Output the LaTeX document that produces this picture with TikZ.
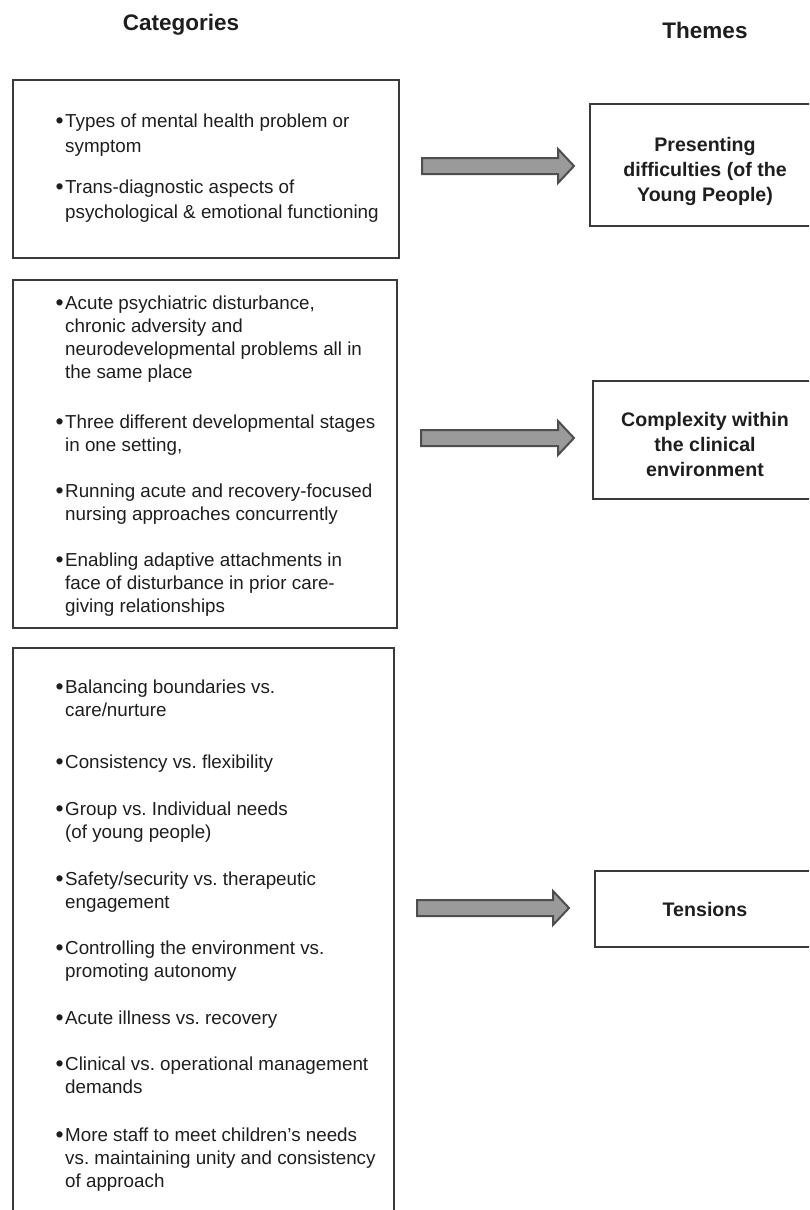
\documentclass[tikz,border=0pt]{standalone}
\usepackage{fontspec}
\setmainfont{Liberation Sans}
\definecolor{txt}{HTML}{1E1E1E}
\definecolor{boxline}{HTML}{3A3A3A}
\definecolor{arrfill}{HTML}{9A9A9A}
\definecolor{arrline}{HTML}{4E4E4E}
\newcommand{\bul}{\llap{\raisebox{-0.09em}{\fontsize{23}{23}\selectfont •}\kern1.6pt}}
\frenchspacing
\begin{document}
\begin{tikzpicture}[x=1pt,y=-1pt,
  catbox/.style={draw=boxline,line width=1.4pt},
  item/.style={anchor=base west,align=left,inner sep=0pt,text=txt,font=\frenchspacing\fontsize{18.8}{23}\selectfont},
  itemwide/.style={item,font=\frenchspacing\fontsize{18.8}{25}\selectfont},
  theme/.style={anchor=base,align=center,inner sep=0pt,text=txt,font=\bfseries\fontsize{19.6}{25}\selectfont},
  head/.style={anchor=base,inner sep=0pt,text=txt,font=\bfseries\fontsize{22.5}{27}\selectfont},
  fatarrow/.style={fill=arrfill,draw=arrline,line width=2pt,line join=miter}]
\path[use as bounding box,clip] (0,0) rectangle (809,1210);

% headers
\node[head] (hcat) at (181,30) {Categories};
\node[head] (hthm) at (705,38) {Themes};

% category boxes
\draw[catbox] (13,80) rectangle (399,258);
\draw[catbox] (13,280) rectangle (397,628);
\draw[catbox] (13,648) rectangle (394,1230);

% theme boxes
\draw[catbox] (590,104) rectangle (830,226);
\draw[catbox] (593,381) rectangle (830,499);
\draw[catbox] (595,871) rectangle (830,947);

% box 1 items (node y = baseline of last line)
\node[itemwide] (a1) at (65,152) {\bul Types of mental health problem or\\symptom};
\node[itemwide] (a2) at (65,218) {\bul Trans-diagnostic aspects of\\psychological \& emotional functioning};

% box 2 items
\node[item] (b1) at (65,378) {\bul Acute psychiatric disturbance,\\chronic adversity and\\neurodevelopmental problems all in\\the same place};
\node[item] (b2) at (65,451) {\bul Three different developmental stages\\in one setting,};
\node[item] (b3) at (65,520) {\bul Running acute and recovery-focused\\nursing approaches concurrently};
\node[item] (b4) at (65,612) {\bul Enabling adaptive attachments in\\face of disturbance in prior care-\\giving relationships};

% box 3 items
\node[item] (c1) at (65,716) {\bul Balancing boundaries vs.\\care/nurture};
\node[item] (c2) at (65,768) {\bul Consistency vs. flexibility};
\node[item] (c3) at (65,838) {\bul Group vs. Individual needs\\(of young people)};
\node[item] (c4) at (65,908) {\bul Safety/security vs. therapeutic\\engagement};
\node[item] (c5) at (65,977) {\bul Controlling the environment vs.\\promoting autonomy};
\node[item] (c6) at (65,1024) {\bul Acute illness vs. recovery};
\node[item] (c7) at (65,1093) {\bul Clinical vs. operational management\\demands};
\node[item] (c8) at (65,1187) {\bul More staff to meet children’s needs\\vs. maintaining unity and consistency\\of approach};

% themes
\node[theme] (t1) at (705,201) {Presenting\\difficulties (of the\\Young People)};
\node[theme] (t2) at (705,476) {Complexity within\\the clinical\\environment};
\node[theme] (t3) at (705,916) {Tensions};

% arrows
\draw[fatarrow] (422,158) -- (558,158) -- (558,149) -- (574,166) -- (558,183) -- (558,174) -- (422,174) -- cycle;
\draw[fatarrow] (421,430) -- (558,430) -- (558,421) -- (574,438) -- (558,455) -- (558,446) -- (421,446) -- cycle;
\draw[fatarrow] (417,900) -- (553,900) -- (553,891) -- (569,908) -- (553,925) -- (553,916) -- (417,916) -- cycle;
\end{tikzpicture}
\end{document}
